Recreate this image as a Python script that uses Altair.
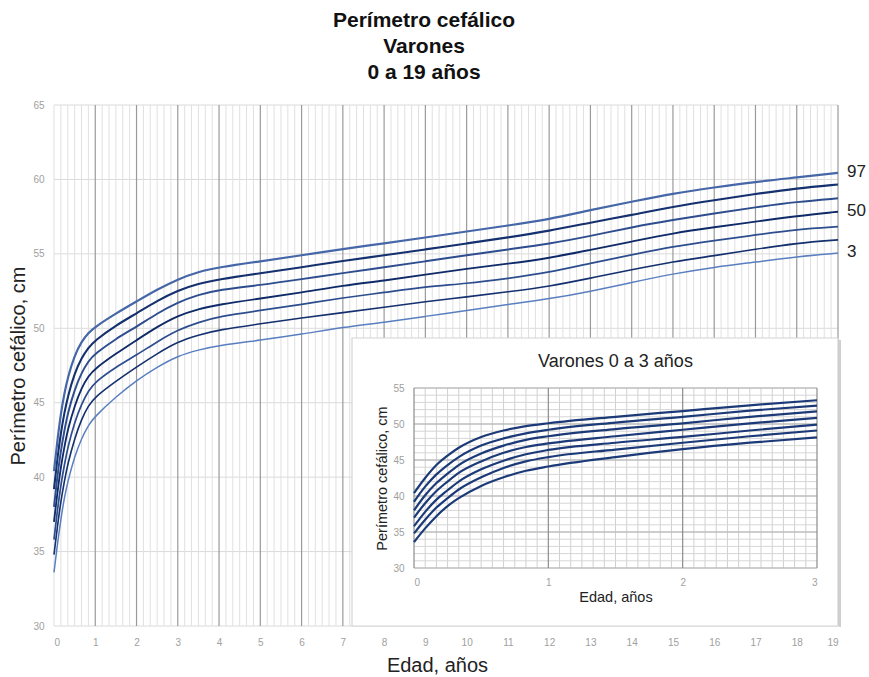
import altair as alt
import pandas as pd

# ---- data ----
ages = [0, 0.083, 0.167, 0.25, 0.333, 0.5, 0.667, 0.833, 1, 1.5, 2, 2.5, 3, 3.5, 4,
        5, 6, 7, 8, 9, 10, 11, 12, 13, 14, 15, 16, 17, 18, 19]

p3 = [33.6, 35.5, 37.2, 38.6, 39.7, 41.4, 42.6, 43.5, 44.1, 45.4, 46.5, 47.4, 48.15, 48.55, 48.85,
      49.2, 49.6, 50.07, 50.4, 50.8, 51.2, 51.6, 51.97, 52.48, 53.08, 53.66, 54.11, 54.44, 54.82, 55.05]
p10 = [34.8, 36.7, 38.4, 39.7, 40.9, 42.6, 43.9, 44.8, 45.4, 46.45, 47.4, 48.3, 49.1, 49.55, 49.9,
       50.3, 50.7, 51.05, 51.4, 51.8, 52.1, 52.45, 52.81, 53.37, 53.93, 54.48, 54.87, 55.31, 55.72, 55.94]
p25 = [35.8, 37.8, 39.5, 40.8, 42.0, 43.7, 44.9, 45.8, 46.4, 47.4, 48.2, 49.1, 49.9, 50.4, 50.8,
       51.2, 51.6, 52.05, 52.4, 52.8, 53.0, 53.35, 53.75, 54.38, 54.93, 55.49, 55.89, 56.27, 56.65, 56.83]
p50 = [37.0, 39.0, 40.7, 42.0, 43.2, 44.8, 46.0, 46.8, 47.3, 48.3, 49.2, 50.1, 50.85, 51.3, 51.6,
       52.0, 52.4, 52.87, 53.2, 53.6, 54.0, 54.33, 54.71, 55.27, 55.82, 56.39, 56.79, 57.16, 57.54, 57.83]
p75 = [38.0, 40.1, 41.8, 43.1, 44.3, 45.9, 47.0, 47.8, 48.3, 49.3, 50.1, 51.0, 51.75, 52.25, 52.6,
       52.9, 53.3, 53.71, 54.1, 54.5, 54.9, 55.3, 55.67, 56.2, 56.79, 57.28, 57.72, 58.13, 58.5, 58.73]
p90 = [39.2, 41.3, 43.0, 44.3, 45.4, 47.0, 48.0, 48.7, 49.2, 50.2, 51.0, 51.85, 52.55, 53.0, 53.3,
       53.7, 54.1, 54.53, 54.9, 55.3, 55.7, 56.1, 56.54, 57.1, 57.61, 58.17, 58.61, 59.02, 59.4, 59.66]
p97 = [40.4, 42.5, 44.3, 45.6, 46.7, 48.2, 49.1, 49.7, 50.1, 51.0, 51.8, 52.6, 53.3, 53.8, 54.1,
       54.5, 54.9, 55.33, 55.7, 56.1, 56.5, 56.9, 57.32, 57.95, 58.5, 59.06, 59.46, 59.84, 60.13, 60.44]

pct_names = ["3", "10", "25", "50", "75", "90", "97"]
label_pcts = ["3", "50", "97"]
series = [p3, p10, p25, p50, p75, p90, p97]

main_x_ticks = list(range(0, 20))
main_y_ticks = list(range(30, 66, 5))
inset_x_ticks = [0, 1, 2, 3]
inset_y_ticks = list(range(30, 56, 5))

rows = []
for name, vals in zip(pct_names, series):
    for a, v in zip(ages, vals):
        rows.append({"age": a, "pc": v, "pct": name})
df = pd.DataFrame(rows)
df_lab = df[(df["age"] == 19) & (df["pct"].isin(label_pcts))]

# grid positions
minor_main = pd.DataFrame({"g": [i / 6 for i in range(0, 19 * 6 + 1) if i % 6 != 0 or i == 0]})
major_main = pd.DataFrame({"g": list(range(1, 20))})
hgrid_main = pd.DataFrame({"h": main_y_ticks})
inset_months = pd.DataFrame({"m": [i / 12 for i in range(0, 37) if i % 12 != 0], "lo": 30, "hi": 55})
inset_years = pd.DataFrame({"m": [0, 1, 2, 3], "lo": 30, "hi": 55})
inset_cm_minor = pd.DataFrame({"c": [c for c in range(30, 56) if c % 5 != 0], "lo": 0, "hi": 3})
inset_cm_major = pd.DataFrame({"c": [c for c in range(30, 56) if c % 5 == 0], "lo": 0, "hi": 3})

W, H = 784, 521
FONT = "Liberation Sans"


def mx():
    return alt.Scale(domain=[0, 19], nice=False, zero=False)


def my():
    return alt.Scale(domain=[30, 65], nice=False, zero=False)


def ix():
    return alt.Scale(domain=[0, 3], range=[360, 763], nice=False, zero=False)


def iy():
    return alt.Scale(domain=[30, 55], range=[463, 283], nice=False, zero=False)


colors = ["#5a7fc0", "#14306e", "#2d4d8e", "#0e2a68", "#2d4d8e", "#14306e", "#4567a8"]
widths = [1.5, 2.2, 1.8, 2.4, 1.8, 2.2, 1.5]

# ---- main chart ----
g_h = alt.Chart(hgrid_main).mark_rule(color="#dadada", strokeWidth=1).encode(
    y=alt.Y("h:Q", scale=my(), axis=None))
g_minor = alt.Chart(minor_main).mark_rule(color="#e0e0e0", strokeWidth=1).encode(
    x=alt.X("g:Q", scale=mx(), axis=None))
g_major = alt.Chart(major_main).mark_rule(color="#9a9a9a", strokeWidth=1.2).encode(
    x=alt.X("g:Q", scale=mx(), axis=None))

curves = alt.Chart(df).mark_line(interpolate="basis").encode(
    x=alt.X("age:Q", scale=mx(),
            axis=alt.Axis(orient="bottom", values=main_x_ticks, grid=False, ticks=False, domain=False,
                          labelColor="#a0a0a0", labelFontSize=10, labelPadding=11,
                          title="Edad, años", titleFontSize=20, titleFontWeight="normal",
                          titleColor="#222", titlePadding=8, titleX=383)),
    y=alt.Y("pc:Q", scale=my(),
            axis=alt.Axis(orient="left", values=main_y_ticks, grid=False, ticks=False,
                          domain=False, labelColor="#a0a0a0", labelFontSize=10, labelPadding=10,
                          title="Perímetro cefálico, cm", titleFontSize=20,
                          titleFontWeight="normal", titleColor="#222", titlePadding=4)),
    color=alt.Color("pct:N", scale=alt.Scale(domain=pct_names, range=colors), legend=None),
    strokeWidth=alt.StrokeWidth("pct:O", scale=alt.Scale(domain=pct_names, range=widths), legend=None),
)

labels = alt.Chart(df_lab).mark_text(align="left", baseline="middle", dx=9, dy=-1,
                                     fontSize=17, color="#222").encode(
    x=alt.X("age:Q", scale=mx(), axis=None),
    y=alt.Y("pc:Q", scale=my(), axis=None),
    text="pct:N")

box_shadow = alt.Chart(pd.DataFrame({"a": [0]})).mark_rule(color="#cfcfcf", strokeWidth=2).encode(
    x=alt.value(786), y=alt.value(235), y2=alt.value(522))
box = alt.Chart(pd.DataFrame({"a": [0]})).mark_rect(fill="white", stroke="#d4d4d4", strokeWidth=1.2).encode(
    x=alt.value(298), x2=alt.value(784), y=alt.value(233), y2=alt.value(521))

# ---- inset ----
iv_minor = alt.Chart(inset_months).mark_rule(color="#d0d0d0", strokeWidth=1).encode(
    x=alt.X("m:Q", scale=ix(), axis=None),
    y=alt.Y("lo:Q", scale=iy(), axis=None), y2="hi:Q")
ih_minor = alt.Chart(inset_cm_minor).mark_rule(color="#d6d6d6", strokeWidth=1).encode(
    y=alt.Y("c:Q", scale=iy(), axis=None),
    x=alt.X("lo:Q", scale=ix(), axis=None), x2="hi:Q")
ih_major = alt.Chart(inset_cm_major).mark_rule(color="#bdbdbd", strokeWidth=1.6).encode(
    y=alt.Y("c:Q", scale=iy(), axis=None),
    x=alt.X("lo:Q", scale=ix(), axis=None), x2="hi:Q")
iv_major = alt.Chart(inset_years).mark_rule(color="#8c8c8c", strokeWidth=1.2).encode(
    x=alt.X("m:Q", scale=ix(), axis=None),
    y=alt.Y("lo:Q", scale=iy(), axis=None), y2="hi:Q")

inset_curves = alt.Chart(df).transform_filter("datum.age <= 3").mark_line(
    interpolate="monotone", color="#1c3a78", strokeWidth=2.2).encode(
    x=alt.X("age:Q", scale=ix(),
            axis=alt.Axis(orient="bottom", offset=-58, values=inset_x_ticks, grid=False, ticks=False,
                          domain=False, labelColor="#a0a0a0", labelFontSize=10, labelPadding=9,
                          title="Edad, años", titleFontSize=14.5, titleFontWeight="normal",
                          titleColor="#222", titlePadding=3, zindex=2)),
    y=alt.Y("pc:Q", scale=iy(),
            axis=alt.Axis(orient="left", offset=-360, values=inset_y_ticks, grid=False, ticks=False,
                          domain=False, labelColor="#a0a0a0", labelFontSize=10, labelPadding=10,
                          title="Perímetro cefálico, cm", titleFontSize=14.5,
                          titleFontWeight="normal", titleColor="#222", titlePadding=3, zindex=2)),
    detail="pct:N",
)

inset_title = alt.Chart(pd.DataFrame({"a": [0]})).mark_text(
    text="Varones 0 a 3 años", fontSize=18, color="#222", baseline="middle", align="center").encode(
    x=alt.value(561.5), y=alt.value(257))

chart = alt.layer(
    g_h, g_minor, g_major, curves, labels, box_shadow, box,
    iv_minor, ih_minor, ih_major, iv_major, inset_curves, inset_title,
).resolve_scale(x="independent", y="independent").properties(
    width=W, height=H,
    autosize="none",
    padding={"left": 54, "top": 105, "right": 31, "bottom": 51},
    title=alt.TitleParams(text=["Perímetro cefálico", "Varones", "0 a 19 años"], fontSize=21,
                          fontWeight="bold", color="#111", anchor="middle", dx=-22, offset=17,
                          lineHeight=26),
).configure(font=FONT).configure_view(stroke=None)

chart.save("out.html", embed_options={"renderer": "svg", "actions": False})
